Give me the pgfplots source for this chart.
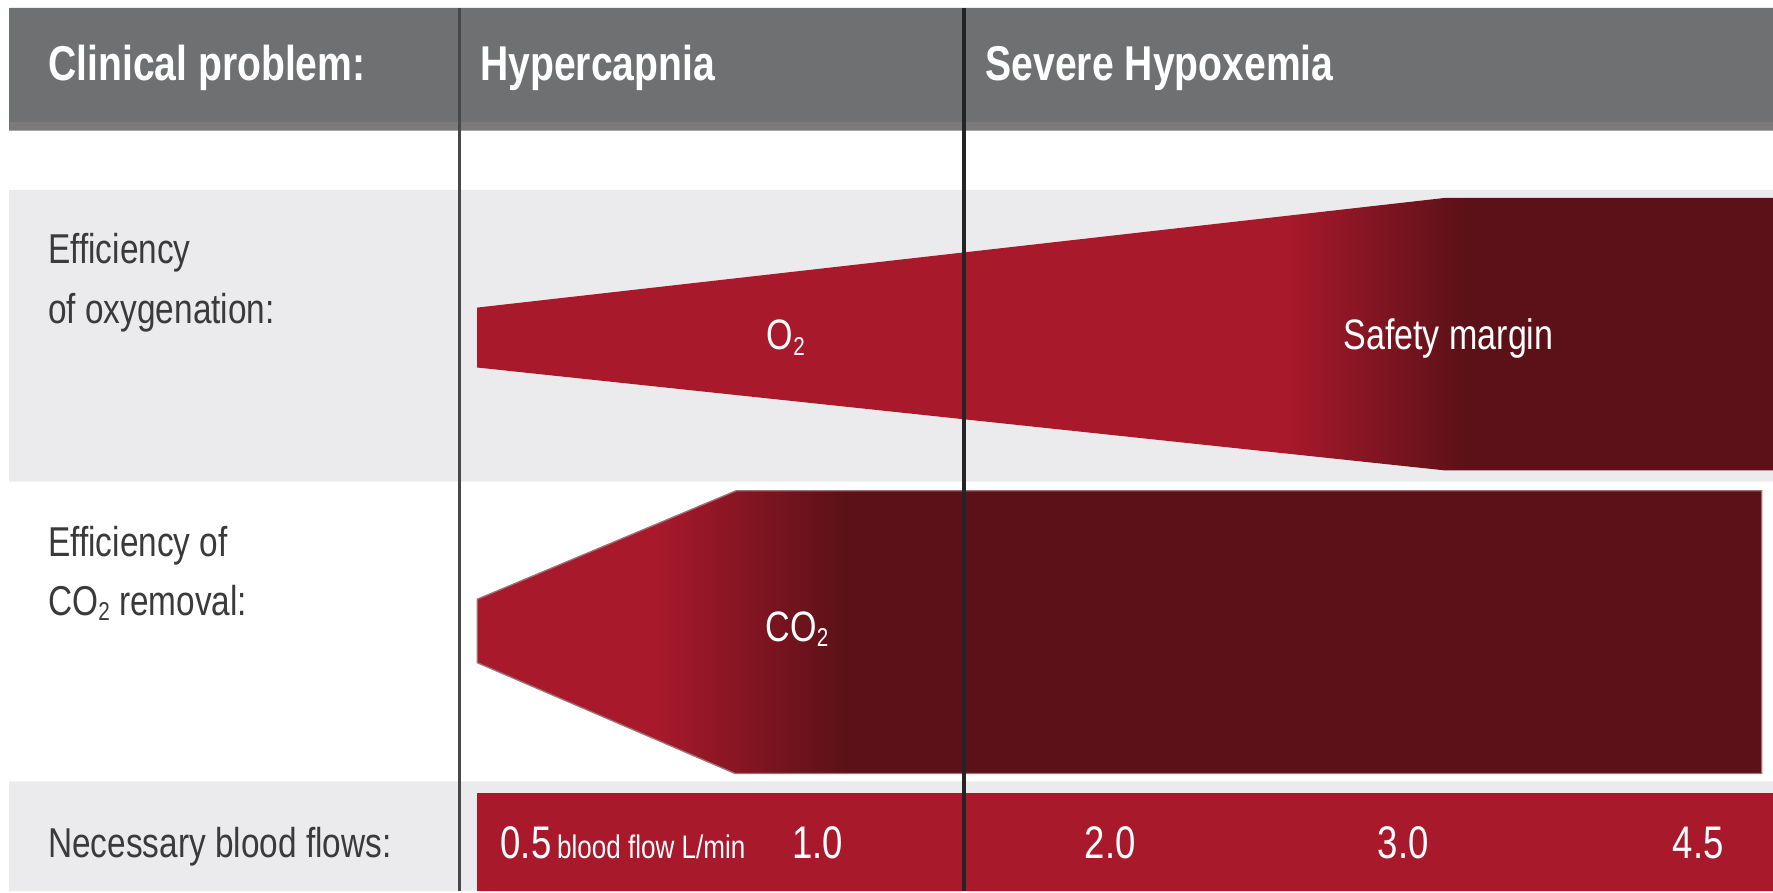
\documentclass[border=0pt]{standalone}
\usepackage{pgfplots}
\pgfplotsset{compat=1.18}
\usepackage{fontspec}
\setmainfont{Liberation Sans}[FakeStretch=0.8]

\definecolor{hdr}{HTML}{6E7072}
\definecolor{hdrstrip}{HTML}{7B7979}
\definecolor{band}{HTML}{EBEBED}
\definecolor{bred}{HTML}{A8192B}
\definecolor{bdark}{HTML}{5B1117}
\definecolor{edge}{HTML}{A07077}
\definecolor{labtxt}{HTML}{3A3A3C}
\definecolor{lineA}{HTML}{48484B}
\definecolor{lineB}{HTML}{242426}

% red-to-dark gradients; the middle 25bp..75bp maps onto the shape's width
\pgfdeclarehorizontalshading{otwograd}{100bp}{color(0bp)=(bred); color(56.2bp)=(bred); color(63.2bp)=(bdark); color(100bp)=(bdark)}
\pgfdeclarehorizontalshading{cotwograd}{100bp}{color(0bp)=(bred); color(32bp)=(bred); color(39.4bp)=(bdark); color(100bp)=(bdark)}

\newcommand\lab{\fontsize{10.5}{12}\selectfont}
\newcommand\hd{\fontsize{12.3}{14}\selectfont\bfseries}
\newcommand\inbar{\fontsize{10.7}{12}\selectfont}
\newcommand\num{\fontsize{11.5}{13}\selectfont}
% small subscript two sitting close to the baseline
\newcommand\subtwo{\raisebox{-0.25ex}{\fontsize{6.5}{7}\selectfont 2}}

\begin{document}
\begin{tikzpicture}
\begin{axis}[
  width=156.8mm, height=78.8mm, scale only axis,
  xmin=0, xmax=1568, ymin=0, ymax=788, y dir=reverse,
  hide axis, clip=false,
  every axis plot/.append style={no markers, draw=none},
]
% canvas extent
\path (axis cs:0,0) rectangle (axis cs:1568,788);

% header bar
\addplot[fill=hdr] coordinates {(8,7) (1568,7) (1568,108) (8,108) (8,7)};
\addplot[fill=hdrstrip] coordinates {(8,108) (1568,108) (1568,115.5) (8,115.5) (8,108)};

% row bands
\addplot[fill=band] coordinates {(8,168) (1568,168) (1568,426) (8,426) (8,168)};
\addplot[fill=band] coordinates {(8,691) (1568,691) (1568,788) (8,788) (8,691)};

% oxygenation wedge
\addplot[shade, shading=otwograd] coordinates {
  (422,272) (1278,175) (1568,175) (1568,416) (1278,416) (422,325) (422,272)};

% CO2 removal arrow
\addplot[shade, shading=cotwograd, draw=edge, line width=0.12mm] coordinates {
  (422,530) (651,434) (1558,434) (1558,684) (650,684) (422,586) (422,530)};

% blood-flow bar
\addplot[fill=bred] coordinates {(422,701.5) (1568,701.5) (1568,788) (422,788) (422,701.5)};

% column separators
\addplot[draw=lineA, line width=0.28mm] coordinates {(406,7) (406,788)};
\addplot[draw=lineB, line width=0.3mm] coordinates {(852.5,7) (852.5,788)};

% header text
\node[anchor=base west, inner sep=0, text=white, font=\hd] at (axis cs:42,71) {Clinical problem:};
\node[anchor=base west, inner sep=0, text=white, font=\hd] at (axis cs:424,71) {Hypercapnia};
\node[anchor=base west, inner sep=0, text=white, font=\hd] at (axis cs:871,71) {Severe Hypoxemia};

% row labels
\node[anchor=base west, inner sep=0, text=labtxt, font=\lab] at (axis cs:42,233) {Efficiency};
\node[anchor=base west, inner sep=0, text=labtxt, font=\lab] at (axis cs:42,286) {of oxygenation:};
\node[anchor=base west, inner sep=0, text=labtxt, font=\lab] at (axis cs:42,492.5) {Efficiency of};
\node[anchor=base west, inner sep=0, text=labtxt, font=\lab] at (axis cs:42,544) {CO\subtwo{} removal:};
\node[anchor=base west, inner sep=0, text=labtxt, font=\lab] at (axis cs:42,758) {Necessary blood flows:};

% labels inside the shapes
\node[anchor=base, inner sep=0, text=white, font=\inbar] at (axis cs:695,309.5) {O\subtwo};
\node[anchor=base, inner sep=0, text=white, font=\inbar] at (axis cs:1281,309.5) {Safety margin};
\node[anchor=base, inner sep=0, text=white, font=\inbar] at (axis cs:705,567) {CO\subtwo};

% blood flow values
\node[anchor=base west, inner sep=0, text=white, font=\num] at (axis cs:442,759) {0.5};
\node[anchor=base west, inner sep=0, text=white, font=\fontsize{8.2}{10}\selectfont] at (axis cs:492,759) {blood flow L/min};
\node[anchor=base, inner sep=0, text=white, font=\num] at (axis cs:723,759) {1.0};
\node[anchor=base, inner sep=0, text=white, font=\num] at (axis cs:982,759) {2.0};
\node[anchor=base, inner sep=0, text=white, font=\num] at (axis cs:1241,759) {3.0};
\node[anchor=base, inner sep=0, text=white, font=\num] at (axis cs:1502,759) {4.5};
\end{axis}
\end{tikzpicture}
\end{document}
